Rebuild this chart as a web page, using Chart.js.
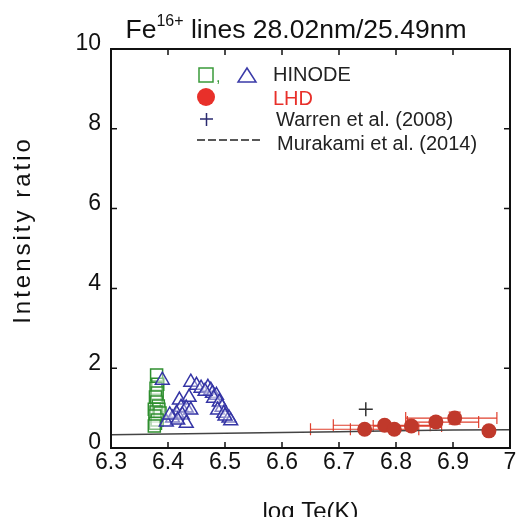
<!DOCTYPE html>
<html>
<head>
<meta charset="utf-8">
<script src="https://cdn.jsdelivr.net/npm/chart.js@4.4.1/dist/chart.umd.min.js"></script>
<style>
  html, body { margin: 0; padding: 0; background: #fff; }
  #wrap { width: 520px; height: 517px; }
</style>
</head>
<body>
<div id="wrap"><canvas id="grafica"></canvas></div>
<script>
// HINODE squares
var sqX = [6.380, 6.382, 6.379, 6.381, 6.378, 6.380, 6.383, 6.376, 6.384, 6.379, 6.386, 6.377, 6.381, 6.378, 6.376]
var sqY = [1.83, 1.60, 1.50, 1.38, 1.28, 1.15, 1.05, 0.97, 0.97, 0.90, 0.88, 0.80, 0.70, 0.62, 0.55]
// HINODE triangles
var triX = [6.390, 6.440, 6.450, 6.458, 6.470, 6.475, 6.478, 6.485, 6.480, 6.490, 6.495, 6.487, 6.498, 6.507, 6.510,
            6.420, 6.437, 6.423, 6.432, 6.440, 6.415, 6.425, 6.408, 6.397, 6.432, 6.403, 6.417, 6.500, 6.465]
var triY = [1.70, 1.65, 1.57, 1.50, 1.52, 1.45, 1.37, 1.32, 1.25, 1.15, 1.02, 0.95, 0.87, 0.75, 0.68,
            1.20, 1.27, 1.02, 1.00, 0.95, 0.87, 0.83, 0.75, 0.65, 0.62, 0.83, 0.70, 0.80, 1.42]
// LHD
var lhdX   = [6.745, 6.780, 6.797, 6.827, 6.870, 6.903, 6.963]
var lhdY   = [0.47, 0.57, 0.47, 0.55, 0.65, 0.75, 0.43]
var lhdXLo = [6.650, 6.690, 6.720, 6.760, 6.820, 6.817, null]
var lhdXHi = [6.800, 6.860, 6.840, 6.880, 6.945, 6.977, null]
var lhdYErr = [0.05, 0.08, 0.05, 0.08, 0.12, 0.15, 0]
// Warren et al. (2008)
var warX = [6.747]
var warY = [0.97]
// Murakami et al. (2014) model
var modX = [6.3, 6.4, 6.5, 6.6, 6.7, 6.8, 6.9, 7.0]
var modY = [0.33, 0.35, 0.37, 0.39, 0.41, 0.43, 0.45, 0.46]

var xTicks = [6.3, 6.4, 6.5, 6.6, 6.7, 6.8, 6.9, 7.0]
var yTicks = [0, 2, 4, 6, 8, 10]

function pts(xs, ys) {
  return xs.map(function (x, i) { return { x: x, y: ys[i] } })
}

var fnt = "'Liberation Sans', Arial, sans-serif"

var framePlugin = {
  id: 'frame',
  afterDraw: function (chart) {
    var ctx = chart.ctx
    var a = chart.chartArea
    var xs = chart.scales.x, ys = chart.scales.y
    ctx.save()
    ctx.strokeStyle = '#111'
    ctx.lineWidth = 2
    ctx.strokeRect(a.left, a.top, a.right - a.left, a.bottom - a.top)
    ctx.lineWidth = 1.5
    ctx.beginPath()
    xTicks.forEach(function (v) {
      var p = xs.getPixelForValue(v)
      ctx.moveTo(p, a.bottom); ctx.lineTo(p, a.bottom - 6)
      ctx.moveTo(p, a.top); ctx.lineTo(p, a.top + 6)
    })
    yTicks.forEach(function (v) {
      var p = ys.getPixelForValue(v)
      ctx.moveTo(a.left, p); ctx.lineTo(a.left + 6, p)
      ctx.moveTo(a.right, p); ctx.lineTo(a.right - 6, p)
    })
    ctx.stroke()

    // title with superscript
    var t1 = 'Fe', t2 = '16+', t3 = ' lines 28.02nm/25.49nm'
    ctx.fillStyle = '#111'
    ctx.textBaseline = 'alphabetic'
    ctx.font = '26.5px ' + fnt
    var w1 = ctx.measureText(t1).width, w3 = ctx.measureText(t3).width
    ctx.font = '16px ' + fnt
    var w2 = ctx.measureText(t2).width
    var x0 = 296 - (w1 + w2 + w3) / 2
    ctx.font = '26.5px ' + fnt
    ctx.fillText(t1, x0, 38)
    ctx.font = '16px ' + fnt
    ctx.fillText(t2, x0 + w1, 26)
    ctx.font = '26.5px ' + fnt
    ctx.fillText(t3, x0 + w1 + w2, 38)

    // y axis title, letter-spaced like the original
    ctx.save()
    ctx.translate(23, 230)
    ctx.rotate(-Math.PI / 2)
    ctx.font = '24px ' + fnt
    ctx.letterSpacing = '3px'
    ctx.textAlign = 'center'
    ctx.textBaseline = 'middle'
    ctx.fillStyle = '#111'
    ctx.fillText('Intensity ratio', 0, 0)
    ctx.restore()

    // legend
    ctx.lineWidth = 1.5
    ctx.strokeStyle = '#3a9a3a'
    ctx.strokeRect(199, 68, 14, 14)
    ctx.fillStyle = '#3a9a3a'
    ctx.font = '16px ' + fnt
    ctx.fillText(',', 216, 82)
    ctx.strokeStyle = '#3a3aa8'
    ctx.beginPath()
    ctx.moveTo(247, 68); ctx.lineTo(256, 82); ctx.lineTo(238, 82); ctx.closePath()
    ctx.stroke()
    ctx.fillStyle = '#e8302a'
    ctx.beginPath(); ctx.arc(206, 97, 9, 0, Math.PI * 2); ctx.fill()
    ctx.strokeStyle = '#2a2a70'
    ctx.beginPath()
    ctx.moveTo(200, 119); ctx.lineTo(213, 119)
    ctx.moveTo(206.5, 113); ctx.lineTo(206.5, 126)
    ctx.stroke()
    ctx.strokeStyle = '#222'
    ctx.lineWidth = 1.3
    ctx.setLineDash([8, 3])
    ctx.beginPath(); ctx.moveTo(197, 140); ctx.lineTo(262, 140); ctx.stroke()
    ctx.setLineDash([])
    ctx.textBaseline = 'middle'
    ctx.font = '20px ' + fnt
    ctx.fillStyle = '#222'
    ctx.fillText('HINODE', 273, 75)
    ctx.fillStyle = '#e8302a'
    ctx.fillText('LHD', 273, 99)
    ctx.fillStyle = '#222'
    ctx.font = '20px ' + fnt
    ctx.fillText('Warren et al. (2008)', 276, 120)
    ctx.fillText('Murakami et al. (2014)', 277, 144)
    ctx.restore()
  }
}

var errPlugin = {
  id: 'errbars',
  beforeDatasetsDraw: function (chart) {
    var ctx = chart.ctx
    var xs = chart.scales.x, ys = chart.scales.y
    ctx.save()
    ctx.strokeStyle = '#e0402e'
    ctx.lineWidth = 1.2
    ctx.beginPath()
    lhdX.forEach(function (x, i) {
      var py = ys.getPixelForValue(lhdY[i])
      if (lhdXLo[i] !== null) {
        var l = xs.getPixelForValue(lhdXLo[i]), r = xs.getPixelForValue(lhdXHi[i])
        ctx.moveTo(l, py); ctx.lineTo(r, py)
        ctx.moveTo(l, py - 6); ctx.lineTo(l, py + 6)
        ctx.moveTo(r, py - 6); ctx.lineTo(r, py + 6)
      }
      if (lhdYErr[i] > 0) {
        var px = xs.getPixelForValue(x)
        var t = ys.getPixelForValue(lhdY[i] + lhdYErr[i]), b = ys.getPixelForValue(lhdY[i] - lhdYErr[i])
        ctx.moveTo(px, t); ctx.lineTo(px, b)
        ctx.moveTo(px - 6, t); ctx.lineTo(px + 6, t)
        ctx.moveTo(px - 6, b); ctx.lineTo(px + 6, b)
      }
    })
    ctx.stroke()
    ctx.restore()
  }
}

var ctx = document.getElementById('grafica').getContext('2d')
var chart = new Chart(ctx, {
  type: 'scatter',
  data: {
    datasets: [
      {
        label: 'Murakami et al. (2014)',
        data: pts(modX, modY),
        showLine: true,
        borderColor: '#444',
        borderWidth: 1.5,
        pointRadius: 0,
        order: 5
      },
      {
        label: 'HINODE sq',
        data: pts(sqX, sqY),
        pointStyle: 'rect',
        pointRadius: 8.5,
        borderColor: '#2f8f2f',
        backgroundColor: 'rgba(255,255,255,0.4)',
        pointBorderWidth: 1.5,
        order: 3
      },
      {
        label: 'HINODE tri',
        data: pts(triX, triY),
        pointStyle: 'triangle',
        pointRadius: 8,
        borderColor: '#3535a5',
        backgroundColor: 'rgba(255,255,255,0.4)',
        pointBorderWidth: 1.5,
        order: 2
      },
      {
        label: 'LHD',
        data: pts(lhdX, lhdY),
        pointStyle: 'circle',
        pointRadius: 7.5,
        borderColor: '#c0392b',
        backgroundColor: '#c0392b',
        pointBorderWidth: 0,
        order: 1
      },
      {
        label: 'Warren et al. (2008)',
        data: pts(warX, warY),
        pointStyle: 'cross',
        pointRadius: 7,
        borderColor: '#333',
        pointBorderWidth: 1.5,
        order: 0
      }
    ]
  },
  options: {
    responsive: true,
    maintainAspectRatio: false,
    animation: false,
    devicePixelRatio: 1,
    layout: { padding: { top: 49, right: 9, left: 0, bottom: 0 } },
    plugins: {
      legend: { display: false },
      tooltip: { enabled: false },
      title: { display: false }
    },
    scales: {
      x: {
        type: 'linear',
        min: 6.3,
        max: 7.0,
        afterBuildTicks: function (s) { s.ticks = xTicks.map(function (v) { return { value: v } }) },
        afterFit: function (s) { s.height = 69 },
        grid: { display: false, drawTicks: false },
        border: { display: false },
        ticks: {
          padding: 1,
          color: '#111',
          font: { family: fnt, size: 23 },
          maxRotation: 0,
          autoSkip: false,
          callback: function (v) { return String(Number(v.toFixed(1))) }
        },
        title: {
          display: true,
          text: 'log Te(K)',
          color: '#111',
          font: { family: fnt, size: 24 },
          padding: { top: 0, bottom: -10 }
        }
      },
      y: {
        type: 'linear',
        min: 0,
        max: 10,
        afterBuildTicks: function (s) { s.ticks = yTicks.map(function (v) { return { value: v } }) },
        afterFit: function (s) { s.width = 111 },
        grid: { display: false, drawTicks: false },
        border: { display: false },
        ticks: {
          padding: 10,
          labelOffset: -5,
          color: '#111',
          font: { family: fnt, size: 23 }
        }
      }
    }
  },
  plugins: [errPlugin, framePlugin]
})
</script>
</body>
</html>
